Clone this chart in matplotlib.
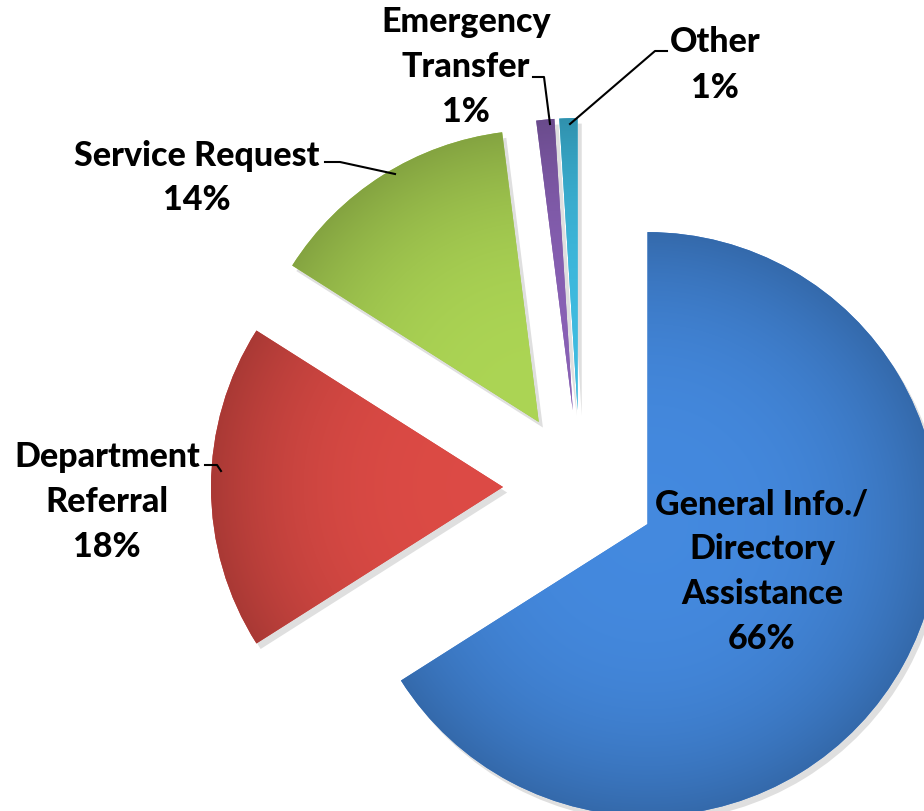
import numpy as np
import matplotlib.pyplot as plt
import matplotlib.patheffects as pe
from matplotlib.colors import to_rgb

labels = ['General Info./\nDirectory\nAssistance', 'Department\nReferral',
          'Service Request', 'Emergency\nTransfer', 'Other']
values = [66, 18, 14, 1, 1]
colors = ['#3f7fce', '#cc4540', '#9fc54e', '#7f5aa8', '#3aaed0']

fig = plt.figure(figsize=(9.24, 8.12), dpi=100)
ax = fig.add_axes([0, 0, 1, 1])

# explode is in data units here (radius is in pixels)
wedges, _ = ax.pie(values, explode=[77] * 5, radius=292, center=(580, 324),
                   startangle=90, counterclock=False, colors=colors,
                   wedgeprops=dict(linewidth=0))
for w in wedges:
    w.set_path_effects([pe.SimplePatchShadow(offset=(3, -4), alpha=0.25,
                                             shadow_rgbFace='gray'),
                        pe.Normal()])

# soft shading inside each wedge
yy, xx = np.mgrid[0:812, 0:924]
for w, c in zip(wedges, colors):
    r, g, b = to_rgb(c)
    cx, cy = w.center
    d = np.hypot(xx - cx, yy - cy) / 292
    shade = np.clip(1.08 - 0.25 * d ** 3, 0.75, 1.1)
    img = np.dstack([np.clip(r * shade, 0, 1), np.clip(g * shade, 0, 1),
                     np.clip(b * shade, 0, 1)])
    im = ax.imshow(img, extent=(0, 924, 0, 812), origin='lower', zorder=2)
    im.set_clip_path(w)

ax.set_xlim(0, 924)
ax.set_ylim(0, 812)
ax.set_aspect('equal')
ax.axis('off')

font = dict(family='Lato', fontweight='black', fontsize=24.5, ha='center',
            va='center', linespacing=1.5, zorder=5)
texts = [f'{l}\n{v}%' for l, v in zip(labels, values)]
pos = [(762, 812 - 572), (107, 812 - 502), (197, 812 - 178),
       (466, 812 - 67), (715, 812 - 65)]
for t, p in zip(texts, pos):
    ax.text(p[0], p[1], t, **font)

# leader lines (image coords -> flip y)
leaders = [
    [(205, 466), (217, 466), (221, 472)],
    [(325, 163), (340, 163), (395, 175)],
    [(533, 78), (544, 78), (550, 125)],
    [(667, 52), (655, 52), (570, 125)],
]
for pts in leaders:
    xs = [p[0] for p in pts]
    ys = [812 - p[1] for p in pts]
    ax.plot(xs, ys, color='black', lw=1.5, zorder=4)

fig.savefig('out.png', dpi=100)
